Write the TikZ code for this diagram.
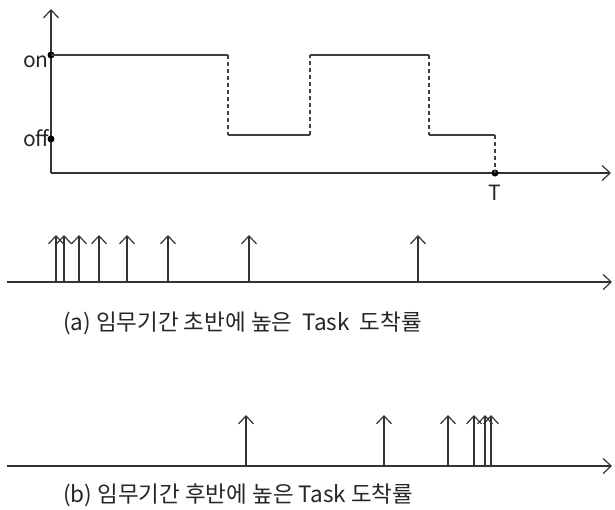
\documentclass[tikz,border=0pt]{standalone}
\usepackage{fontspec}
\setmainfont{Noto Sans CJK KR}
\usetikzlibrary{arrows.meta}

\begin{document}
\begin{tikzpicture}[x=1pt, y=-1pt,
  axis/.style={draw=black!80, line width=1.2pt, -{Straight Barb[length=8pt, width=15pt]}},
  sig/.style={draw=black!75, line width=1.2pt},
  jump/.style={draw=black!75, line width=1.2pt, dash pattern=on 4pt off 3pt},
  task/.style={draw=black!80, line width=1.2pt, -{Straight Barb[length=8pt, width=15pt]}},
  dot/.style={circle, fill=black, inner sep=0pt, minimum size=7pt},
  lvl/.style={font=\fontsize{21}{21}\selectfont, text=black!85, anchor=base west, inner sep=0pt},
  captext/.style={font=\fontsize{22.5}{25}\selectfont, text=black!85, anchor=base west, inner sep=0pt}]
  \useasboundingbox (0,0) rectangle (615,509);

  % on/off chart
  \coordinate (o) at (51,173);
  \coordinate (ytop) at (51,9);
  \coordinate (xend) at (611,173);
  \draw[axis] (o) -- (ytop);
  \draw[axis] (o) -- (xend);

  \node[dot] (on) at (51,55) {};
  \node[dot] (off) at (51,139) {};
  \node[dot] (t) at (495,173) {};
  \node[lvl] (onlbl) at (23,67) {on};
  \node[lvl] (offlbl) at (23,146) {off};
  \node[lvl, anchor=base] (tlbl) at (495,200) {T};

  \draw[sig] (on.center) -- (228,55);
  \draw[jump] (228,55) -- (228,135);
  \draw[sig] (228,135) -- (310,135);
  \draw[jump] (310,135) -- (310,55);
  \draw[sig] (310,55) -- (429,55);
  \draw[jump] (429,55) -- (429,135);
  \draw[sig] (429,135) -- (495,135);
  \draw[jump] (495,135) -- (t.center);

  % (a) early arrivals
  \coordinate (a0) at (7,282);
  \coordinate (a1) at (612,282);
  \draw[axis] (a0) -- (a1);
  \draw[task] (56,282) -- (56,235);
  \draw[task] (64,282) -- (64,235);
  \draw[task] (79,282) -- (79,235);
  \draw[task] (99,282) -- (99,235);
  \draw[task] (127,282) -- (127,235);
  \draw[task] (168,282) -- (168,235);
  \draw[task] (249,282) -- (249,235);
  \draw[task] (418,282) -- (418,235);
  \node[captext] (capa) at (63,330) {(a) 임무기간 초반에 높은\ \ Task\ \ 도착률};

  % (b) late arrivals
  \coordinate (b0) at (7,466);
  \coordinate (b1) at (612,466);
  \draw[axis] (b0) -- (b1);
  \draw[task] (246,466) -- (246,415);
  \draw[task] (384,466) -- (384,415);
  \draw[task] (448,466) -- (448,415);
  \draw[task] (474,466) -- (474,415);
  \draw[task] (485,466) -- (485,415);
  \draw[task] (491,466) -- (491,415);
  \node[captext] (capb) at (63,502) {(b) 임무기간 후반에 높은 Task 도착률};
\end{tikzpicture}
\end{document}
